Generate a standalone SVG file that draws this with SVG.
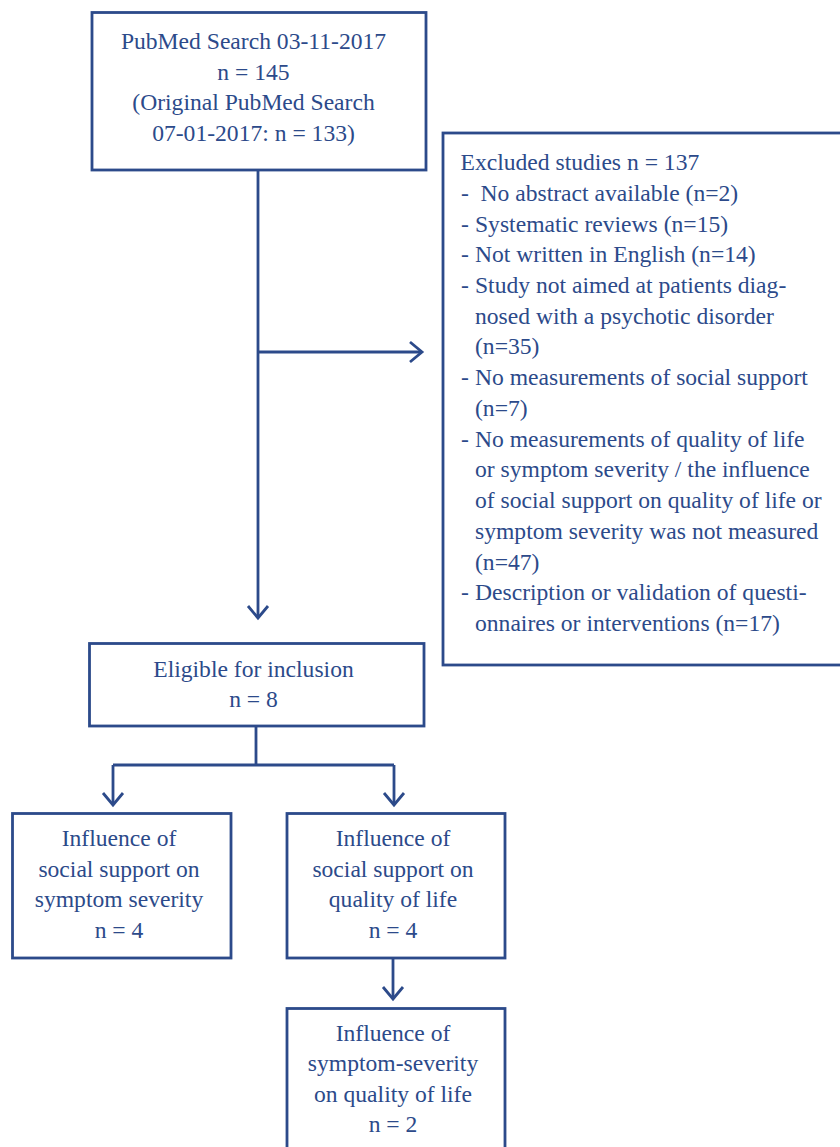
<svg xmlns="http://www.w3.org/2000/svg" width="840" height="1147" viewBox="0 0 840 1147">
<style>
.box{fill:#fff;stroke:#2c4a8a;stroke-width:2.8}
.ln{fill:none;stroke:#2c4a8a;stroke-width:2.8}
text{font-family:'Liberation Serif','DejaVu Serif',serif;font-size:23.6px;fill:#2c4a8a}
.c{text-anchor:middle}
</style>
<defs>
<marker id="arr" markerUnits="userSpaceOnUse" markerWidth="20" markerHeight="28" viewBox="-16 -14 20 28" refX="0" refY="0" orient="auto" overflow="visible">
<path d="M-12,-10 L0,0 L-12,10" fill="none" stroke="#2c4a8a" stroke-width="2.8"/>
</marker>
</defs>
<rect width="840" height="1147" fill="#fff"/>
<g id="connectors">
<path class="ln" d="M258,170 V618" marker-end="url(#arr)"/>
<path class="ln" d="M258,352 H422" marker-end="url(#arr)"/>
<path class="ln" d="M256,726 V765"/>
<path class="ln" d="M113,765 H394"/>
<path class="ln" d="M113,765 V805" marker-end="url(#arr)"/>
<path class="ln" d="M394,765 V805" marker-end="url(#arr)"/>
<path class="ln" d="M393,958 V999" marker-end="url(#arr)"/>
</g>
<g id="search">
<rect class="box" x="92" y="12.5" width="334" height="157.5"/>
<text class="c" x="253.5" y="49">PubMed Search 03-11-2017</text>
<text class="c" x="253.5" y="79.5">n = 145</text>
<text class="c" x="253.5" y="110">(Original PubMed Search</text>
<text class="c" x="253.5" y="140.5">07-01-2017: n = 133)</text>
</g>
<g id="excluded">
<rect class="box" x="443" y="133" width="420" height="532"/>
<text x="460.5" y="170">Excluded studies n = 137</text>
<text x="461" y="200.7">-</text><text x="480.5" y="200.7">No abstract available (n=2)</text>
<text x="461" y="231.5">-</text><text x="475" y="231.5">Systematic reviews (n=15)</text>
<text x="461" y="262.2">-</text><text x="475" y="262.2">Not written in English (n=14)</text>
<text x="461" y="292.9">-</text><text x="475" y="292.9">Study not aimed at patients diag-</text>
<text x="475" y="323.6">nosed with a psychotic disorder</text>
<text x="475" y="354.4">(n=35)</text>
<text x="461" y="385.1">-</text><text x="475" y="385.1">No measurements of social support</text>
<text x="475" y="415.8">(n=7)</text>
<text x="461" y="446.6">-</text><text x="475" y="446.6">No measurements of quality of life</text>
<text x="475" y="477.3">or symptom severity / the influence</text>
<text x="475" y="508">of social support on quality of life or</text>
<text x="475" y="538.7">symptom severity was not measured</text>
<text x="475" y="569.5">(n=47)</text>
<text x="461" y="600.2">-</text><text x="475" y="600.2">Description or validation of questi-</text>
<text x="475" y="630.9">onnaires or interventions (n=17)</text>
</g>
<g id="eligible">
<rect class="box" x="89.5" y="643.5" width="334.5" height="82.5"/>
<text class="c" x="253.5" y="677">Eligible for inclusion</text>
<text class="c" x="253.5" y="706.5">n = 8</text>
</g>
<g id="symptom">
<rect class="box" x="12.5" y="813.5" width="218.5" height="144.5"/>
<text class="c" x="119" y="846">Influence of</text>
<text class="c" x="119" y="876.5">social support on</text>
<text class="c" x="119" y="907">symptom severity</text>
<text class="c" x="119" y="937.5">n = 4</text>
</g>
<g id="qol">
<rect class="box" x="287" y="813.5" width="218" height="144.5"/>
<text class="c" x="393" y="846">Influence of</text>
<text class="c" x="393" y="876.5">social support on</text>
<text class="c" x="393" y="907">quality of life</text>
<text class="c" x="393" y="937.5">n = 4</text>
</g>
<g id="severity-qol">
<rect class="box" x="287" y="1008.5" width="218" height="160"/>
<text class="c" x="393" y="1040.5">Influence of</text>
<text class="c" x="393" y="1071">symptom-severity</text>
<text class="c" x="393" y="1101.5">on quality of life</text>
<text class="c" x="393" y="1132">n = 2</text>
</g>
</svg>
